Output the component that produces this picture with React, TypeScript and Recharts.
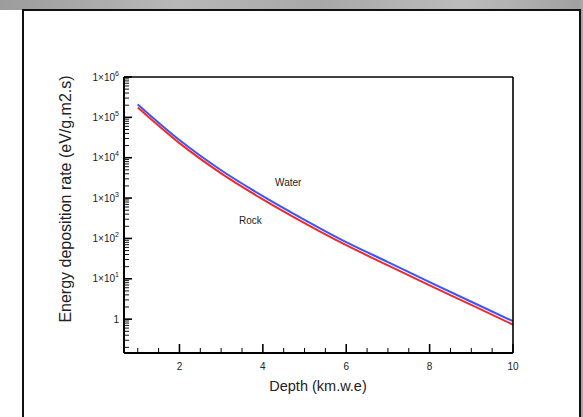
import React from 'react';
import { LineChart, Line, XAxis, YAxis, ReferenceDot } from 'recharts';

const FONT = '"Liberation Sans", Arial, Helvetica, sans-serif';

// depth in km.w.e
const depth = [1, 2, 3, 4, 5, 6, 7, 8, 9, 10];
// energy deposition rate (eV/g.m2.s)
const water = [2.1e5, 2.75e4, 4.9e3, 1.12e3, 290, 81, 26, 8.3, 2.7, 0.89];
const rock = [1.75e5, 2.3e4, 4.1e3, 930, 240, 68, 21.5, 6.9, 2.25, 0.73];

const xDomain = [0.67, 10];
const yDomain = [0.145, 1e6];

const xTicks = [1, 1.5, 2, 2.5, 3, 3.5, 4, 4.5, 5, 5.5, 6, 6.5, 7, 7.5, 8, 8.5, 9, 9.5, 10];
const xLabels = [2, 4, 6, 8, 10];
const yDecades = [1, 10, 100, 1e3, 1e4, 1e5, 1e6];
const yExponents = [0, 1, 2, 3, 4, 5, 6];
const minorSteps = [2, 3, 4, 5, 6, 7, 8, 9];

// minor ticks of the log axis, 0.2 .. 9e5
const yTicks: number[] = [];
[0.1, ...yDecades].forEach((d) => {
  if (d < 1e6) minorSteps.forEach((m) => yTicks.push(+(d * m).toPrecision(3)));
  if (d >= 1) yTicks.push(d);
});
yTicks.sort((a, b) => a - b);

const data = depth.map((d, i) => ({ depth: d, water: water[i], rock: rock[i] }));

const renderYTick = (props: any) => {
  const { x, y, payload } = props;
  const v = payload.value;
  const idx = yDecades.findIndex((d) => Math.abs(d - v) / d < 1e-6);
  if (idx < 0) {
    return (
      <g>
        <line x1={x} x2={x + 5} y1={y} y2={y} stroke="#111" strokeWidth={1} />
      </g>
    );
  }
  const exp = yExponents[idx];
  return (
    <g>
      <line x1={x} x2={x + 8} y1={y} y2={y} stroke="#000" strokeWidth={1.6} />
      <text x={x - 5} y={y + 3.5} textAnchor="end" fontSize={10} fontFamily={FONT} fill="#222">
        {exp === 0 ? '1' : <><tspan>1×10</tspan><tspan dy={-5} fontSize={7}>{exp}</tspan></>}
      </text>
    </g>
  );
};

const renderXTick = (props: any) => {
  const { x, y, payload } = props;
  const v = payload.value;
  const major = xLabels.includes(v);
  return (
    <g>
      <line x1={x} x2={x} y1={y} y2={y - (major ? 9 : 5)} stroke="#000" strokeWidth={major ? 1.6 : 1} />
      {major && (
        <text x={x} y={y + 17} textAnchor="middle" fontSize={10} fontFamily={FONT} fill="#222">{v}</text>
      )}
    </g>
  );
};

export default function App() {
  return (
    <div style={{ position: 'absolute', left: 0, top: 0, width: 583, height: 417, overflow: 'hidden', background: '#fff' }}>
      {/* slide frame */}
      <div style={{ position: 'absolute', left: 0, top: 0, width: 583, height: 34, background: 'radial-gradient(140% 260% at 50% 100%, #fff 58%, #9a9a9a 100%)' }} />
      <div style={{ position: 'absolute', left: 0, top: 0, width: 583, height: 10, background: 'linear-gradient(to right, #9c9c9c, #b8b8b8 30%, #a8a8a8 55%, #bcbcbc 80%, #a0a0a0)' }} />
      <div style={{ position: 'absolute', left: 580, top: 0, width: 3, height: 417, background: '#a8a8a8' }} />
      <div style={{ position: 'absolute', left: 22, top: 9, width: 555, height: 430, border: '2px solid #111' }} />
      <div style={{ position: 'absolute', left: 24, top: 11, width: 555, height: 24, background: 'radial-gradient(130% 280% at 50% 100%, #fff 62%, #b5b5b5 100%)' }} />
      <div style={{ position: 'absolute', left: 0, top: 0 }}>
        <LineChart width={583} height={417} data={data} margin={{ top: 57, right: 50, bottom: 24, left: 64 }}>
          <XAxis xAxisId="b" dataKey="depth" type="number" domain={xDomain} ticks={xTicks} interval={0} height={40} tickSize={0} tickMargin={0} tick={renderXTick} tickLine={false} axisLine={{ stroke: '#000', strokeWidth: 2 }} allowDataOverflow />
          <XAxis xAxisId="t" orientation="top" dataKey="depth" type="number" domain={xDomain} height={20} tick={false} tickLine={false} axisLine={{ stroke: '#000', strokeWidth: 1.6 }} allowDataOverflow />
          <YAxis yAxisId="l" type="number" scale="log" domain={yDomain} ticks={yTicks} interval={0} width={60} tickSize={0} tickMargin={0} tick={renderYTick} tickLine={false} axisLine={{ stroke: '#000', strokeWidth: 2 }} allowDataOverflow />
          <YAxis yAxisId="r" orientation="right" type="number" scale="log" domain={yDomain} width={20} tick={false} tickLine={false} axisLine={{ stroke: '#000', strokeWidth: 1.6 }} allowDataOverflow />
          <Line xAxisId="b" yAxisId="l" dataKey="water" type="monotone" stroke="#3a55ff" strokeWidth={2} dot={false} isAnimationActive={false} />
          <Line xAxisId="b" yAxisId="l" dataKey="rock" type="monotone" stroke="#f02a2a" strokeWidth={2} dot={false} isAnimationActive={false} />
          <ReferenceDot xAxisId="b" yAxisId="l" x={4.61} y={2400} r={0} fill="none" stroke="none" label={{ value: 'Water', position: 'center', fontSize: 10, fontFamily: FONT, fill: '#222' }} />
          <ReferenceDot xAxisId="b" yAxisId="l" x={3.7} y={286} r={0} fill="none" stroke="none" label={{ value: 'Rock', position: 'center', fontSize: 10, fontFamily: FONT, fill: '#222' }} />
        </LineChart>
      </div>
      <div style={{ position: 'absolute', left: 318, top: 385.5, transform: 'translate(-50%, -50%)', fontFamily: FONT, fontSize: 14.5, color: '#222', whiteSpace: 'nowrap' }}>
        Depth (km.w.e)
      </div>
      <div style={{ position: 'absolute', left: 66, top: 198.5, transform: 'translate(-50%, -50%) rotate(-90deg)', fontFamily: FONT, fontSize: 16, color: '#222', whiteSpace: 'nowrap' }}>
        Energy deposition rate (eV/g.m2.s)
      </div>
    </div>
  );
}
